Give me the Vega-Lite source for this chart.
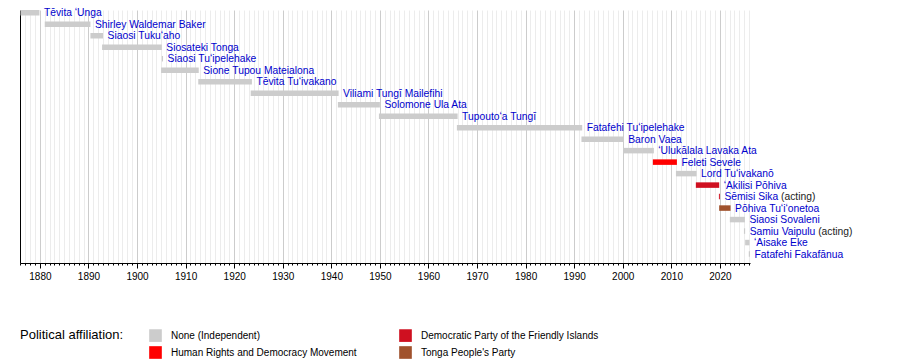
{
 "$schema": "https://vega.github.io/schema/vega-lite/v6.json",
 "width": 730,
 "height": 253,
 "autosize": {"type": "none"},
 "padding": {"left": 20, "top": 10, "right": 150, "bottom": 99},
 "config": {"view": {"stroke": null}, "font": "Liberation Sans", "axis": {"labelOverlap": false}},
 "data": {"values": [
  {"name": "Tēvita ʻUnga", "full": "Tēvita ʻUnga", "start": 1876.0, "end": 1879.9, "party": "None (Independent)"},
  {"name": "Shirley Waldemar Baker", "full": "Shirley Waldemar Baker", "start": 1881.0, "end": 1890.4, "party": "None (Independent)"},
  {"name": "Siaosi Tukuʻaho", "full": "Siaosi Tukuʻaho", "start": 1890.4, "end": 1893.0, "party": "None (Independent)"},
  {"name": "Siosateki Tonga", "full": "Siosateki Tonga", "start": 1892.8, "end": 1905.1, "party": "None (Independent)"},
  {"name": "Siaosi Tuʻipelehake", "full": "Siaosi Tuʻipelehake", "start": 1905.1, "end": 1905.35, "party": "None (Independent)"},
  {"name": "Sione Tupou Mateialona", "full": "Sione Tupou Mateialona", "start": 1904.95, "end": 1912.7, "party": "None (Independent)"},
  {"name": "Tēvita Tuʻivakano", "full": "Tēvita Tuʻivakano", "start": 1912.6, "end": 1923.65, "party": "None (Independent)"},
  {"name": "Viliami Tungī Mailefihi", "full": "Viliami Tungī Mailefihi", "start": 1923.4, "end": 1941.5, "party": "None (Independent)"},
  {"name": "Solomone Ula Ata", "full": "Solomone Ula Ata", "start": 1941.35, "end": 1950.0, "party": "None (Independent)"},
  {"name": "Tupoutoʻa Tungī", "full": "Tupoutoʻa Tungī", "start": 1949.8, "end": 1966.0, "party": "None (Independent)"},
  {"name": "Fatafehi Tuʻipelehake", "full": "Fatafehi Tuʻipelehake", "start": 1965.85, "end": 1991.65, "party": "None (Independent)"},
  {"name": "Baron Vaea", "full": "Baron Vaea", "start": 1991.5, "end": 2000.2, "party": "None (Independent)"},
  {"name": "ʻUlukālala Lavaka Ata", "full": "ʻUlukālala Lavaka Ata", "start": 2000.1, "end": 2006.4, "party": "None (Independent)"},
  {"name": "Feleti Sevele", "full": "Feleti Sevele", "start": 2006.2, "end": 2011.15, "party": "Human Rights and Democracy Movement"},
  {"name": "Lord Tuʻivakanō", "full": "Lord Tuʻivakanō", "start": 2010.95, "end": 2015.2, "party": "None (Independent)"},
  {"name": "ʻAkilisi Pōhiva", "full": "ʻAkilisi Pōhiva", "start": 2015.05, "end": 2019.86, "party": "Democratic Party of the Friendly Islands"},
  {"name": "Sēmisi Sika", "full": "Sēmisi Sika (acting)", "start": 2019.8, "end": 2020.0, "party": "Democratic Party of the Friendly Islands"},
  {"name": "Pōhiva Tuʻiʻonetoa", "full": "Pōhiva Tuʻiʻonetoa", "start": 2019.85, "end": 2022.2, "party": "Tonga People's Party"},
  {"name": "Siaosi Sovaleni", "full": "Siaosi Sovaleni", "start": 2022.05, "end": 2025.15, "party": "None (Independent)"},
  {"name": "Samiu Vaipulu", "full": "Samiu Vaipulu (acting)", "start": 2024.95, "end": 2025.2, "party": "None (Independent)"},
  {"name": "ʻAisake Eke", "full": "ʻAisake Eke", "start": 2025.2, "end": 2026.1, "party": "None (Independent)"},
  {"name": "Fatafehi Fakafānua", "full": "Fatafehi Fakafānua", "start": 2025.95, "end": 2026.2, "party": "None (Independent)"}
 ]},
 "encoding": {
  "y": {"field": "name", "type": "nominal", "sort": null,
   "scale": {"paddingInner": 0.52, "paddingOuter": 0.27, "align": 0},
   "axis": {"title": null, "labels": false, "ticks": false, "domain": true, "domainColor": "#000000", "grid": false}},
  "x": {"field": "end", "type": "quantitative",
   "scale": {"domain": [1875.9, 2026.2], "nice": false, "zero": false},
   "axis": {"title": null,
    "values": [1876,1877,1878,1879,1880,1881,1882,1883,1884,1885,1886,1887,1888,1889,1890,1891,1892,1893,1894,1895,1896,1897,1898,1899,1900,1901,1902,1903,1904,1905,1906,1907,1908,1909,1910,1911,1912,1913,1914,1915,1916,1917,1918,1919,1920,1921,1922,1923,1924,1925,1926,1927,1928,1929,1930,1931,1932,1933,1934,1935,1936,1937,1938,1939,1940,1941,1942,1943,1944,1945,1946,1947,1948,1949,1950,1951,1952,1953,1954,1955,1956,1957,1958,1959,1960,1961,1962,1963,1964,1965,1966,1967,1968,1969,1970,1971,1972,1973,1974,1975,1976,1977,1978,1979,1980,1981,1982,1983,1984,1985,1986,1987,1988,1989,1990,1991,1992,1993,1994,1995,1996,1997,1998,1999,2000,2001,2002,2003,2004,2005,2006,2007,2008,2009,2010,2011,2012,2013,2014,2015,2016,2017,2018,2019,2020,2021,2022,2023,2024,2025,2026],
    "format": "d",
    "labelExpr": "datum.value % 10 === 0 ? datum.label : ''",
    "labelOverlap": false, "labelFlush": false, "labelBound": false,
    "labelFontSize": 10, "labelColor": "#000000", "labelFont": "Liberation Sans", "labelPadding": 3,
    "grid": true,
    "gridColor": {"condition": {"test": "datum.value % 10 === 0", "value": "#cccccc"}, "value": "#ececec"},
    "gridWidth": 1,
    "tickColor": "#000000",
    "tickSize": {"condition": {"test": "datum.value % 10 === 0", "value": 5}, "value": 2},
    "domainColor": "#000000"}}
 },
 "layer": [
  {
   "mark": {"type": "bar"},
   "encoding": {
    "x2": {"field": "start"},
    "color": {"field": "party", "type": "nominal",
     "scale": {"domain": ["None (Independent)", "Human Rights and Democracy Movement", "Democratic Party of the Friendly Islands", "Tonga People's Party"],
      "range": ["#cccccc", "#ff0000", "#cf1020", "#a0522d"]},
     "legend": {"orient": "none", "legendX": 0, "legendY": 319,
      "title": "Political affiliation:", "titleOrient": "left", "titleFontSize": 13, "titleFontWeight": "normal",
      "titleFont": "Liberation Sans", "titleColor": "#000000", "titleBaseline": "top", "titleAnchor": "start", "titlePadding": 25,
      "columns": 2, "columnPadding": 42, "rowPadding": 4,
      "symbolType": "square", "symbolSize": 160, "symbolStrokeWidth": 0, "symbolOpacity": 1,
      "labelFontSize": 10, "labelFont": "Liberation Sans", "labelColor": "#000000", "labelOffset": 9, "labelLimit": 300,
      "padding": 0}}
   }
  },
  {
   "transform": [{"filter": "datum.full !== datum.name"}],
   "mark": {"type": "text", "align": "left", "baseline": "middle", "dx": 4.5, "dy": 0.5, "fontSize": 10.3, "font": "Liberation Sans", "color": "#222222"},
   "encoding": {"text": {"field": "full"}}
  },
  {
   "transform": [{"filter": "datum.full !== datum.name"}],
   "mark": {"type": "text", "align": "left", "baseline": "middle", "dx": 4.5, "dy": 0.5, "fontSize": 10.3, "font": "Liberation Sans", "color": "#ffffff", "stroke": "#ffffff", "strokeWidth": 1.6},
   "encoding": {"text": {"field": "name"}}
  },
  {
   "mark": {"type": "text", "align": "left", "baseline": "middle", "dx": 4.5, "dy": 0.5, "fontSize": 10.3, "font": "Liberation Sans", "color": "#0000cc"},
   "encoding": {"text": {"field": "name"}}
  }
 ]
}
